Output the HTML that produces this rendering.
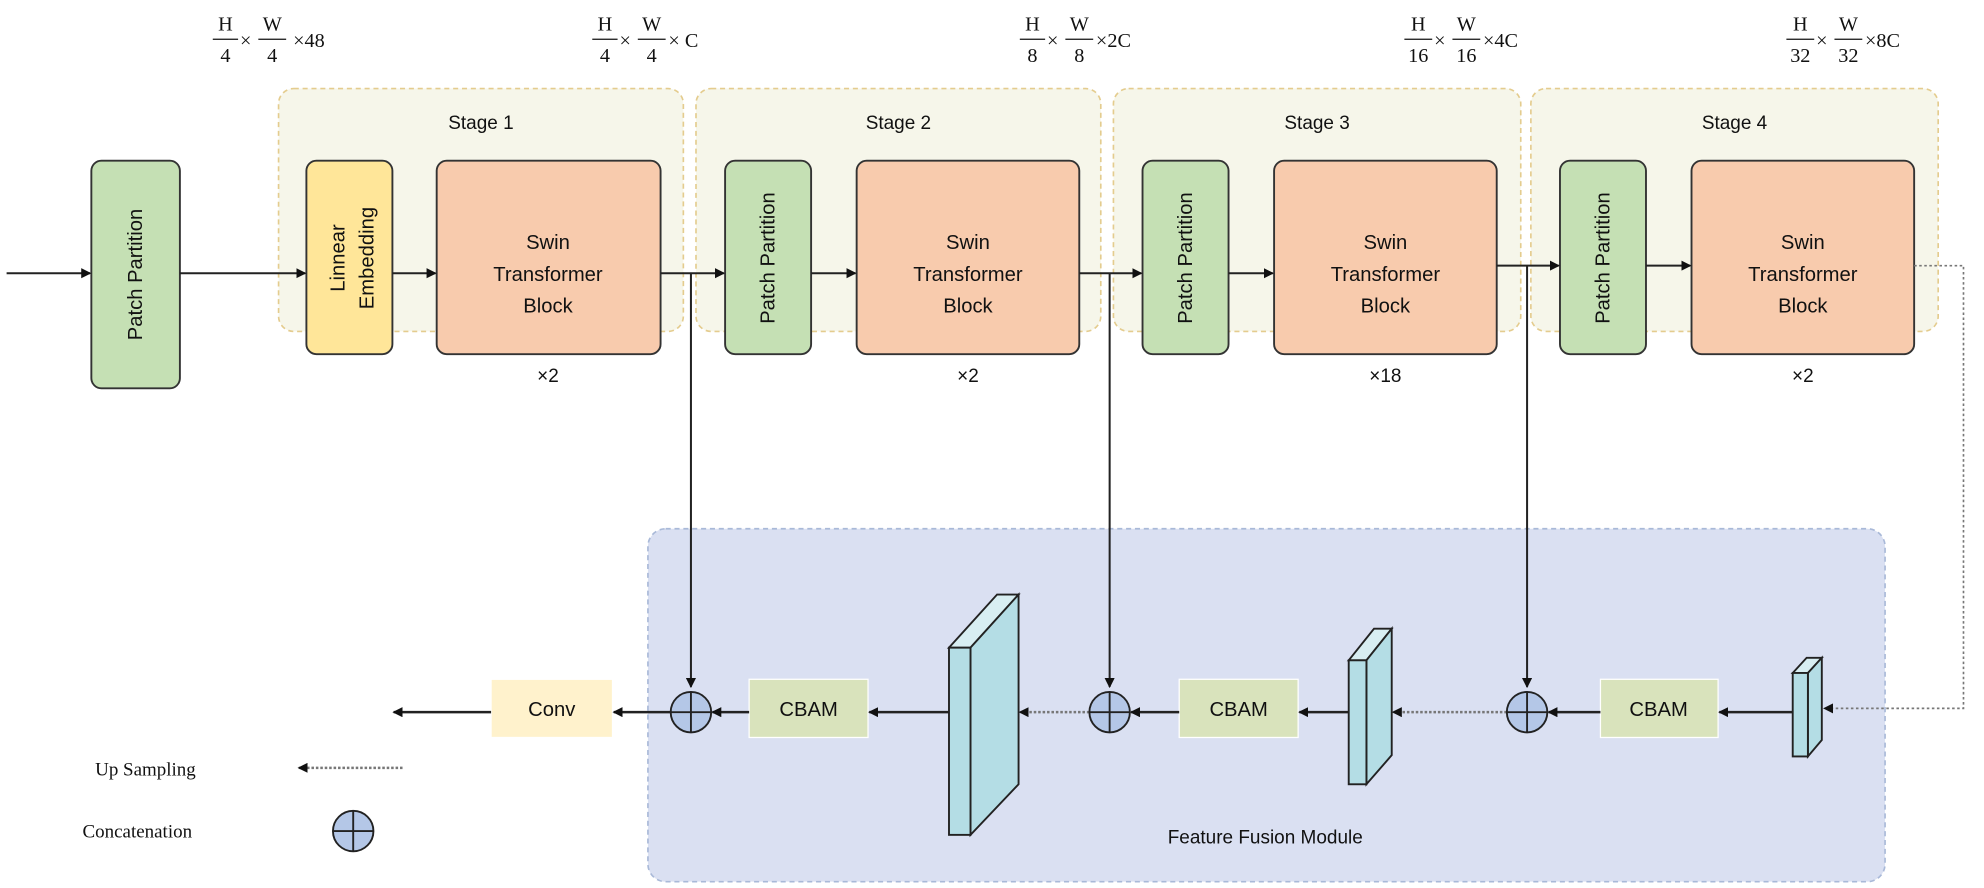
<!DOCTYPE html>
<html><head><style>html,body{margin:0;padding:0;background:#fff}svg{display:block}</style></head>
<body>
<svg xmlns="http://www.w3.org/2000/svg" width="1984" height="888" viewBox="0 0 1568 702" font-family="'Liberation Sans Narrow','Liberation Sans',sans-serif">
<defs>
<marker id="a" markerWidth="8" markerHeight="8" refX="7" refY="4" orient="auto" markerUnits="userSpaceOnUse"><path d="M0,0 L8,4 L0,8 z" fill="#111"/></marker>
</defs>
<!-- stages -->
<g fill="#f6f6ea" stroke="#e4cc8e" stroke-dasharray="4,3" stroke-width="1.3">
<rect x="220" y="70" width="320" height="192" rx="12"/>
<rect x="550" y="70" width="320" height="192" rx="12"/>
<rect x="880" y="70" width="322" height="192" rx="12"/>
<rect x="1210" y="70" width="322" height="192" rx="12"/>
</g>
<!-- FFM -->
<rect x="512" y="418" width="978" height="279" rx="14" fill="#dae0f2" stroke="#a9b9d8" stroke-dasharray="4,3" stroke-width="1.3"/>
<g font-size="15" fill="#111" text-anchor="middle">
<text x="380" y="102">Stage 1</text><text x="710" y="102">Stage 2</text><text x="1041" y="102">Stage 3</text><text x="1371" y="102">Stage 4</text>
<text x="433" y="302">×2</text><text x="765" y="302">×2</text><text x="1095" y="302">×18</text><text x="1425" y="302">×2</text>
<text x="1000" y="667">Feature Fusion Module</text>
</g>
<!-- boxes -->
<g stroke="#333" stroke-width="1.5">
<rect x="72" y="127" width="70" height="180" rx="8" fill="#c5e0b4"/>
<rect x="242" y="127" width="68" height="153" rx="8" fill="#ffe699"/>
<rect x="345" y="127" width="177" height="153" rx="8" fill="#f8cbad"/>
<rect x="573" y="127" width="68" height="153" rx="8" fill="#c5e0b4"/>
<rect x="677" y="127" width="176" height="153" rx="8" fill="#f8cbad"/>
<rect x="903" y="127" width="68" height="153" rx="8" fill="#c5e0b4"/>
<rect x="1007" y="127" width="176" height="153" rx="8" fill="#f8cbad"/>
<rect x="1233" y="127" width="68" height="153" rx="8" fill="#c5e0b4"/>
<rect x="1337" y="127" width="176" height="153" rx="8" fill="#f8cbad"/>
</g>
<g font-size="16" fill="#111" text-anchor="middle">
<text transform="translate(112,217) rotate(-90)">Patch Partition</text>
<text transform="translate(612,204) rotate(-90)">Patch Partition</text>
<text transform="translate(942,204) rotate(-90)">Patch Partition</text>
<text transform="translate(1272,204) rotate(-90)">Patch Partition</text>
<text transform="translate(272,204) rotate(-90)">Linnear</text>
<text transform="translate(295,204) rotate(-90)">Embedding</text>
<g><text x="433" y="197">Swin</text><text x="433" y="222">Transformer</text><text x="433" y="247">Block</text></g>
<g><text x="765" y="197">Swin</text><text x="765" y="222">Transformer</text><text x="765" y="247">Block</text></g>
<g><text x="1095" y="197">Swin</text><text x="1095" y="222">Transformer</text><text x="1095" y="247">Block</text></g>
<g><text x="1425" y="197">Swin</text><text x="1425" y="222">Transformer</text><text x="1425" y="247">Block</text></g>
</g>
<!-- top arrows -->
<g stroke="#222" stroke-width="1.6" marker-end="url(#a)">
<line x1="5" y1="216" x2="71" y2="216"/>
<line x1="142" y1="216" x2="241" y2="216"/>
<line x1="310" y1="216" x2="344" y2="216"/>
<line x1="522" y1="216" x2="572" y2="216"/>
<line x1="641" y1="216" x2="676" y2="216"/>
<line x1="853" y1="216" x2="902" y2="216"/>
<line x1="971" y1="216" x2="1006" y2="216"/>
<line x1="1183" y1="210" x2="1232" y2="210"/>
<line x1="1301" y1="210" x2="1336" y2="210"/>
<line x1="546" y1="216" x2="546" y2="543"/>
<line x1="877" y1="216" x2="877" y2="543"/>
<line x1="1207" y1="210" x2="1207" y2="543"/>
</g>
<polyline points="1513,210 1552,210 1552,560 1442,560" fill="none" stroke="#777" stroke-width="1.3" stroke-dasharray="2,2" marker-end="url(#a)"/>
<!-- CBAM / conv -->
<g font-size="16" fill="#111" text-anchor="middle">
<rect x="592" y="537" width="94" height="46" fill="#d9e3bc" stroke="#fff"/><text x="639" y="566">CBAM</text>
<rect x="932" y="537" width="94" height="46" fill="#d9e3bc" stroke="#fff"/><text x="979" y="566">CBAM</text>
<rect x="1265" y="537" width="93" height="46" fill="#d9e3bc" stroke="#fff"/><text x="1311" y="566">CBAM</text>
<rect x="388" y="537" width="96" height="46" fill="#fff2cc" stroke="#fff"/><text x="436" y="566">Conv</text>
</g>
<!-- slabs -->
<g stroke="#222" stroke-width="1.5" fill="#b4dde5">
<path d="M750,512 L788,470 L805,470 L767,512 z" fill="#d8eef2"/>
<path d="M767,512 L805,470 L805,620 L767,660 z"/>
<rect x="750" y="512" width="17" height="148"/>
<path d="M1066,522 L1086,497 L1100,497 L1080,522 z" fill="#d8eef2"/>
<path d="M1080,522 L1100,497 L1100,597 L1080,620 z"/>
<rect x="1066" y="522" width="14" height="98"/>
<path d="M1417,532 L1428,520 L1440,520 L1429,532 z" fill="#d8eef2"/>
<path d="M1429,532 L1440,520 L1440,585 L1429,598 z"/>
<rect x="1417" y="532" width="12" height="66"/>
</g>
<!-- bottom arrows -->
<g stroke="#222" stroke-width="2" marker-end="url(#a)">
<line x1="750" y1="563" x2="687" y2="563"/>
<line x1="592" y1="563" x2="563" y2="563"/>
<line x1="1066" y1="563" x2="1027" y2="563"/>
<line x1="932" y1="563" x2="894" y2="563"/>
<line x1="1417" y1="563" x2="1359" y2="563"/>
<line x1="1265" y1="563" x2="1224" y2="563"/>
<line x1="530" y1="563" x2="485" y2="563"/>
<line x1="388" y1="563" x2="311" y2="563"/>
</g>
<g stroke="#777" stroke-width="2" stroke-dasharray="2,1.5" marker-end="url(#a)">
<line x1="861" y1="563" x2="806" y2="563"/>
<line x1="1191" y1="563" x2="1101" y2="563"/>
<line x1="318" y1="607" x2="236" y2="607"/>
</g>
<!-- circles -->
<g fill="#b4c7e7" stroke="#222" stroke-width="1.5">
<circle cx="546" cy="563" r="16"/><path d="M530,563 H562 M546,547 V579"/>
<circle cx="877" cy="563" r="16"/><path d="M861,563 H893 M877,547 V579"/>
<circle cx="1207" cy="563" r="16"/><path d="M1191,563 H1223 M1207,547 V579"/>
<circle cx="279" cy="657" r="16"/><path d="M263,657 H295 M279,641 V673"/>
</g>
<g font-family="'Liberation Serif',serif" font-size="15" fill="#111">
<text x="75" y="613">Up Sampling</text>
<text x="65" y="662">Concatenation</text>
</g>
<!-- fractions -->
<g font-family="'Liberation Serif',serif" font-size="16" fill="#111" text-anchor="middle">
<g transform="translate(172,0)"><text x="6" y="24">H</text><text x="6" y="49">4</text><line x1="-4" y1="31" x2="16" y2="31" stroke="#111"/><text x="22" y="37">×</text><text x="43" y="24">W</text><text x="43" y="49">4</text><line x1="32" y1="31" x2="54" y2="31" stroke="#111"/><text x="72" y="37">×48</text></g>
<g transform="translate(472,0)"><text x="6" y="24">H</text><text x="6" y="49">4</text><line x1="-4" y1="31" x2="16" y2="31" stroke="#111"/><text x="22" y="37">×</text><text x="43" y="24">W</text><text x="43" y="49">4</text><line x1="32" y1="31" x2="54" y2="31" stroke="#111"/><text x="68" y="37">× C</text></g>
<g transform="translate(810,0)"><text x="6" y="24">H</text><text x="6" y="49">8</text><line x1="-4" y1="31" x2="16" y2="31" stroke="#111"/><text x="22" y="37">×</text><text x="43" y="24">W</text><text x="43" y="49">8</text><line x1="32" y1="31" x2="54" y2="31" stroke="#111"/><text x="70" y="37">×2C</text></g>
<g transform="translate(1113,0)"><text x="8" y="24">H</text><text x="8" y="49">16</text><line x1="-3" y1="31" x2="19" y2="31" stroke="#111"/><text x="25" y="37">×</text><text x="46" y="24">W</text><text x="46" y="49">16</text><line x1="35" y1="31" x2="57" y2="31" stroke="#111"/><text x="73" y="37">×4C</text></g>
<g transform="translate(1415,0)"><text x="8" y="24">H</text><text x="8" y="49">32</text><line x1="-3" y1="31" x2="19" y2="31" stroke="#111"/><text x="25" y="37">×</text><text x="46" y="24">W</text><text x="46" y="49">32</text><line x1="35" y1="31" x2="57" y2="31" stroke="#111"/><text x="73" y="37">×8C</text></g>
</g>
</svg>
</body></html>
